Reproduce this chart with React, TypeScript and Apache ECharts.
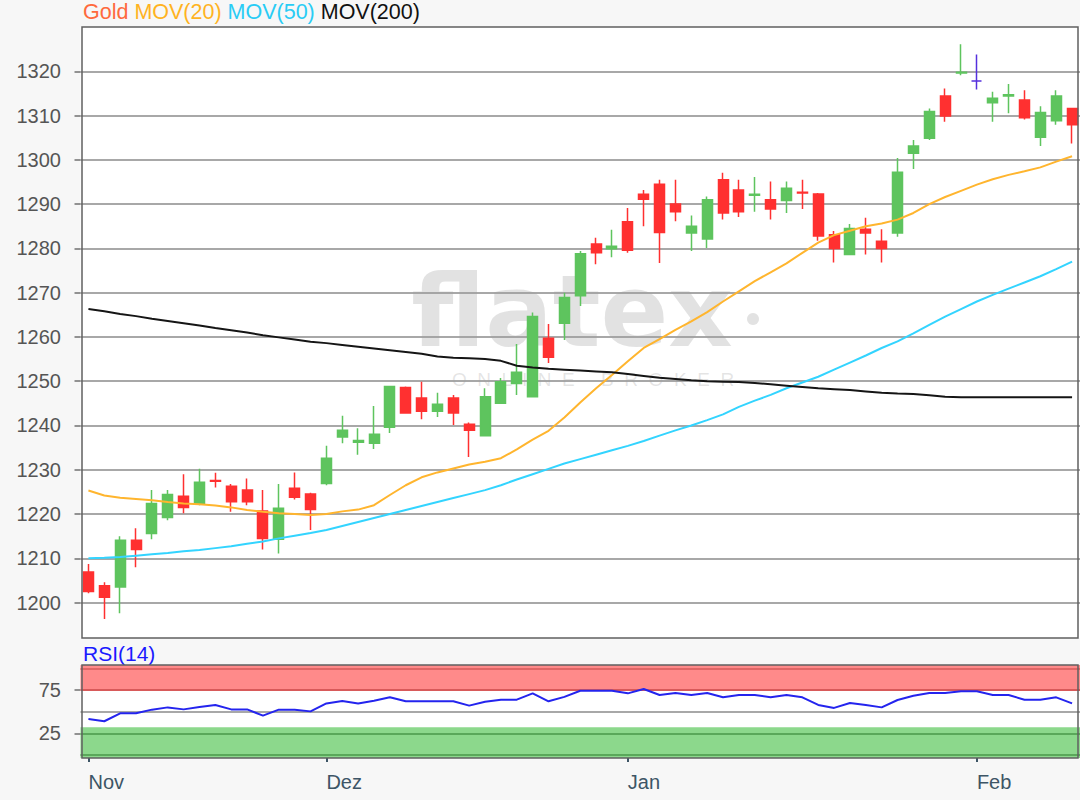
import React, { useEffect, useRef } from "react";
import * as echarts from "echarts";

const dates = [
  "2018-11-12","2018-11-13","2018-11-14","2018-11-15","2018-11-16","2018-11-19","2018-11-20","2018-11-21","2018-11-22","2018-11-23","2018-11-26","2018-11-27","2018-11-28","2018-11-29","2018-11-30",
  "2018-12-03","2018-12-04","2018-12-05","2018-12-06","2018-12-07","2018-12-10","2018-12-11","2018-12-12","2018-12-13","2018-12-14","2018-12-17","2018-12-18","2018-12-19","2018-12-20","2018-12-21","2018-12-24","2018-12-27","2018-12-28","2018-12-31",
  "2019-01-02","2019-01-03","2019-01-04","2019-01-07","2019-01-08","2019-01-09","2019-01-10","2019-01-11","2019-01-14","2019-01-15","2019-01-16","2019-01-17","2019-01-18","2019-01-21","2019-01-22","2019-01-23","2019-01-24","2019-01-25","2019-01-28","2019-01-29","2019-01-30","2019-01-31",
  "2019-02-01","2019-02-04","2019-02-05","2019-02-06","2019-02-07","2019-02-08","2019-02-11",
];

const opens = [
  1206.9, 1203.8, 1203.5, 1214.1, 1215.6, 1219.2, 1224.0, 1222.3, 1227.6, 1226.3,
  1225.4, 1220.7, 1214.3, 1225.8, 1224.5, 1226.9, 1237.4, 1236.2, 1236.0, 1239.6,
  1248.6, 1246.2, 1243.2, 1246.2, 1240.3, 1237.7, 1245.0, 1249.5, 1246.5, 1259.7,
  1263.1, 1269.3, 1281.0, 1279.9, 1286.0, 1292.2, 1294.5, 1290.0, 1283.5, 1282.1,
  1295.5, 1293.2, 1292.0, 1291.0, 1290.8, 1292.7, 1292.3, 1283.1, 1278.6, 1284.3,
  1281.6, 1283.5, 1301.5, 1304.9, 1314.4, 1319.6, 1317.8, 1312.9, 1314.4, 1313.5,
  1305.1, 1308.8, 1311.6,
];
const closes = [
  1202.5, 1201.2, 1214.1, 1212.0, 1222.4, 1224.4, 1221.5, 1227.2, 1227.4, 1222.8,
  1222.8, 1214.5, 1221.3, 1223.8, 1221.0, 1232.6, 1238.9, 1236.6, 1238.0, 1248.8,
  1242.8, 1243.2, 1244.8, 1242.8, 1238.9, 1246.5, 1249.9, 1252.0, 1264.6, 1255.4,
  1268.9, 1278.8, 1279.0, 1280.5, 1279.6, 1291.1, 1283.6, 1288.3, 1285.0, 1291.0,
  1288.0, 1288.3, 1292.2, 1288.9, 1293.6, 1292.5, 1282.8, 1280.0, 1284.5, 1283.5,
  1280.0, 1297.2, 1303.1, 1310.9, 1309.9, 1319.8, 1317.8, 1313.9, 1314.7, 1309.5,
  1310.7, 1314.4, 1307.9,
];
const lows = [
  1202.1, 1196.3, 1197.6, 1208.0, 1214.3, 1218.6, 1220.2, 1222.0, 1226.0, 1220.5,
  1222.0, 1212.0, 1211.1, 1223.3, 1216.4, 1226.5, 1236.0, 1233.4, 1234.7, 1238.3,
  1242.7, 1241.4, 1241.9, 1240.1, 1232.9, 1237.5, 1245.0, 1246.9, 1246.4, 1254.1,
  1259.3, 1267.0, 1276.4, 1278.0, 1279.0, 1285.0, 1276.7, 1286.1, 1279.4, 1280.1,
  1286.5, 1287.1, 1288.3, 1286.5, 1288.0, 1288.9, 1281.7, 1276.8, 1278.6, 1278.6,
  1276.8, 1282.6, 1297.9, 1304.5, 1308.6, 1319.1, 1315.9, 1308.6, 1310.5, 1309.1,
  1303.1, 1307.9, 1303.7,
];
const highs = [
  1208.7, 1204.6, 1215.0, 1216.8, 1225.4, 1225.4, 1229.0, 1230.2, 1229.3, 1226.8,
  1228.0, 1225.4, 1226.8, 1229.4, 1224.8, 1235.4, 1242.2, 1239.4, 1244.4, 1248.9,
  1248.8, 1249.9, 1247.4, 1246.9, 1240.7, 1248.4, 1250.7, 1258.4, 1265.5, 1262.9,
  1270.0, 1279.4, 1282.4, 1284.2, 1289.1, 1293.2, 1295.5, 1295.5, 1287.4, 1291.7,
  1297.1, 1295.5, 1296.1, 1295.1, 1295.1, 1295.5, 1292.5, 1283.9, 1285.5, 1286.9,
  1284.3, 1300.4, 1304.5, 1311.6, 1316.1, 1326.1, 1323.8, 1315.4, 1317.1, 1315.7,
  1312.1, 1315.7, 1311.6,
];

const mov20 = [
  1225.3, 1224.2, 1223.7, 1223.4, 1223.1, 1222.7, 1222.4, 1222.2, 1221.9, 1221.5,
  1220.9, 1220.5, 1220.2, 1220.0, 1219.8, 1220.0, 1220.6, 1221.0, 1222.0, 1224.3,
  1226.5, 1228.3, 1229.4, 1230.3, 1231.2, 1231.8, 1232.6, 1234.6, 1236.8, 1238.8,
  1241.8, 1245.2, 1248.4, 1251.4, 1254.5, 1257.5, 1259.5, 1261.6, 1263.5, 1265.6,
  1268.0, 1270.3, 1272.6, 1274.6, 1276.6, 1279.0, 1281.3, 1283.0, 1284.0, 1285.0,
  1285.6, 1286.5, 1288.0, 1290.0, 1291.6, 1293.0, 1294.4, 1295.6, 1296.6, 1297.4,
  1298.3, 1299.6, 1300.8,
];
const mov50 = [
  1210.0, 1210.1, 1210.3, 1210.6, 1210.9, 1211.2, 1211.6, 1211.9, 1212.3, 1212.7,
  1213.3, 1213.8, 1214.5, 1215.1, 1215.7, 1216.4, 1217.3, 1218.2, 1219.1, 1220.0,
  1220.9, 1221.8, 1222.7, 1223.6, 1224.5, 1225.4, 1226.5, 1227.8, 1229.0, 1230.2,
  1231.4, 1232.4, 1233.4, 1234.4, 1235.4, 1236.5, 1237.7, 1238.9, 1240.0, 1241.2,
  1242.5, 1244.2, 1245.6, 1246.9, 1248.4, 1249.7, 1251.0, 1252.6, 1254.2, 1255.8,
  1257.5, 1259.0, 1260.8, 1262.7, 1264.6, 1266.3, 1268.0, 1269.5, 1270.9, 1272.3,
  1273.7, 1275.3, 1277.0,
];
const mov200 = [
  1266.3, 1265.8, 1265.2, 1264.7, 1264.1, 1263.6, 1263.1, 1262.6, 1262.0, 1261.5,
  1261.0, 1260.4, 1259.9, 1259.4, 1258.9, 1258.6, 1258.2, 1257.8, 1257.4, 1257.0,
  1256.6, 1256.2, 1255.6, 1255.3, 1255.2, 1255.0, 1254.6, 1253.5, 1253.1, 1252.8,
  1252.6, 1252.4, 1252.2, 1252.0, 1251.6, 1251.2, 1250.8, 1250.5, 1250.2, 1250.0,
  1249.9, 1249.8, 1249.6, 1249.3, 1249.0, 1248.7, 1248.4, 1248.2, 1248.0, 1247.7,
  1247.4, 1247.2, 1247.1, 1246.8, 1246.5, 1246.4, 1246.4, 1246.4, 1246.4, 1246.4,
  1246.4, 1246.4, 1246.4,
];
const rsi14 = [
  41.6, 38.9, 48.1, 48.1, 52.3, 54.9, 52.6, 55.4, 57.7, 52.6,
  52.6, 45.4, 52.3, 52.3, 50.3, 59.5, 62.3, 59.5, 62.6, 66.5,
  61.9, 61.9, 61.9, 61.9, 56.9, 61.5, 63.8, 63.8, 71.1, 61.9,
  67.0, 74.1, 74.1, 74.0, 71.1, 76.1, 69.2, 71.5, 69.2, 71.5,
  66.5, 69.2, 69.2, 66.5, 69.2, 66.5, 57.7, 54.3, 60.0, 57.7,
  54.9, 63.4, 68.4, 71.5, 71.5, 73.4, 73.4, 69.2, 69.2, 63.8,
  63.8, 66.5, 59.5,
];

const priceTicks = [1200, 1210, 1220, 1230, 1240, 1250, 1260, 1270, 1280, 1290, 1300, 1310, 1320];
const rsiTicks = [25, 75];
const monthNames: Record<string, string> = { "11": "Nov", "12": "Dez", "01": "Jan", "02": "Feb" };

const UP = "#5ec45e";
const DOWN = "#ff3030";
const DOJI = "#5530dd";
const FONT = "Liberation Sans";
const WM = "rgba(160,160,160,0.3)";

export default function App() {
  const ref = useRef<HTMLDivElement>(null);
  useEffect(() => {
    if (!ref.current) return;
    const chart = echarts.init(ref.current, null, { renderer: "svg" });
    const isMonthStart = (i: number) => i === 0 || dates[i].slice(5, 7) !== dates[i - 1].slice(5, 7);
    const candles = dates.map((_, i) => {
      const v = [opens[i], closes[i], lows[i], highs[i]];
      if (opens[i] === closes[i]) {
        return { value: v, itemStyle: { color: DOJI, color0: DOJI, borderColor: DOJI, borderColor0: DOJI, borderColorDoji: DOJI } };
      }
      return v;
    });

    chart.setOption({
      animation: false,
      backgroundColor: "#f7f7f7",
      textStyle: { fontFamily: FONT },
      grid: [
        { left: 80.5, top: 27, width: 999.5, height: 611, show: true, backgroundColor: "#ffffff", borderWidth: 0 },
        { left: 80.5, top: 665, width: 999.5, height: 93, show: true, backgroundColor: "#ffffff", borderWidth: 0 },
      ],
      xAxis: [
        {
          type: "category", gridIndex: 0, data: dates, boundaryGap: true,
          axisLine: { show: false }, axisTick: { show: false }, axisLabel: { show: false }, splitLine: { show: false },
        },
        {
          type: "category", gridIndex: 1, data: dates, boundaryGap: true,
          axisLine: { show: false },
          axisTick: { show: true, alignWithLabel: true, interval: (i: number) => isMonthStart(i), length: 7, lineStyle: { color: "#3d5566", width: 2 } },
          axisLabel: {
            interval: (i: number) => isMonthStart(i),
            formatter: (v: string) => monthNames[v.slice(5, 7)],
            align: "left", fontSize: 20, color: "#3d5566", margin: 14, fontFamily: FONT,
          },
          splitLine: { show: false },
        },
      ],
      yAxis: [
        {
          type: "value", gridIndex: 0, min: 1192, max: 1330,
          axisLine: { show: false },
          axisTick: { show: true, customValues: priceTicks, length: 6, lineStyle: { color: "#707070", width: 1.5 } },
          axisLabel: { customValues: priceTicks, formatter: (v: number) => String(v), fontSize: 20, color: "#555555", margin: 19.5, fontFamily: FONT },
          splitLine: { show: true, lineStyle: { color: "#a8a8a8", width: 2 } },
        },
        {
          type: "value", gridIndex: 1, min: -3.5, max: 103.8,
          axisLine: { show: false },
          axisTick: { show: true, customValues: rsiTicks, length: 6, lineStyle: { color: "#707070", width: 1.5 } },
          axisLabel: { customValues: rsiTicks, formatter: (v: number) => String(v), fontSize: 20, color: "#555555", margin: 19.5, fontFamily: FONT },
          splitLine: { show: false },
        },
      ],
      graphic: [
        {
          type: "rect", z: 20, silent: true, shape: { x: 82, y: 27, width: 996, height: 611 },
          style: { fill: "none", stroke: "#606060", lineWidth: 1.5 },
        },
        {
          type: "rect", z: 20, silent: true, shape: { x: 82, y: 665, width: 996, height: 93 },
          style: { fill: "none", stroke: "#606060", lineWidth: 1.5 },
        },
        {
          type: "text", left: 83, top: 1, z: 10,
          style: {
            text: "{a|Gold} {b|MOV(20)} {c|MOV(50)} {d|MOV(200)}",
            fontSize: 21.5, fontFamily: FONT, fill: "#000",
            rich: {
              a: { fill: "#ff6a3d", fontSize: 21.5, fontFamily: FONT },
              b: { fill: "#ffb31f", fontSize: 21.5, fontFamily: FONT },
              c: { fill: "#29ccf5", fontSize: 21.5, fontFamily: FONT },
              d: { fill: "#111111", fontSize: 21.5, fontFamily: FONT },
            },
          },
        },
        {
          type: "text", left: 83, top: 643, z: 10,
          style: { text: "RSI(14)", fontSize: 21, fontFamily: FONT, fill: "#1a1aff" },
        },
        {
          type: "text", x: 572, y: 311, z: 1, silent: true,
          style: { text: "flatex", fontSize: 100, fontFamily: "DejaVu Sans", fontWeight: "bold", fill: WM, align: "center", verticalAlign: "middle" },
        },
        {
          type: "circle", z: 1, silent: true, shape: { cx: 753, cy: 319, r: 6 },
          style: { fill: WM },
        },
        {
          type: "text", x: 593, y: 379, z: 1, silent: true,
          style: { text: "O  N  L  I  N  E     B  R  O  K  E  R", fontSize: 19, fontFamily: FONT, fill: "rgba(160,160,160,0.28)", align: "center", verticalAlign: "middle" },
        },
      ],
      series: [
        {
          name: "Gold", type: "candlestick", xAxisIndex: 0, yAxisIndex: 0, data: candles, barWidth: 10.5,
          itemStyle: { color: UP, color0: DOWN, borderColor: UP, borderColor0: DOWN, borderWidth: 1.5 },
        },
        { name: "MOV(20)", type: "line", xAxisIndex: 0, yAxisIndex: 0, data: mov20, symbol: "none", lineStyle: { color: "#ffb52e", width: 2 } },
        { name: "MOV(50)", type: "line", xAxisIndex: 0, yAxisIndex: 0, data: mov50, symbol: "none", lineStyle: { color: "#33d4ff", width: 2 } },
        { name: "MOV(200)", type: "line", xAxisIndex: 0, yAxisIndex: 0, data: mov200, symbol: "none", lineStyle: { color: "#151515", width: 2 } },
        {
          name: "RSI(14)", type: "line", xAxisIndex: 1, yAxisIndex: 1, data: rsi14, symbol: "none", z: 5,
          lineStyle: { color: "#2424ee", width: 2 },
          markArea: {
            silent: true,
            data: [
              [{ yAxis: 75, itemStyle: { color: "#ff8a8a" } }, { yAxis: 103.8 }],
              [{ yAxis: -3.5, itemStyle: { color: "#8cd88c" } }, { yAxis: 32 }],
            ],
          },
          markLine: {
            silent: true, symbol: "none", label: { show: false },
            data: [
              { yAxis: 100, lineStyle: { color: "#e06666", width: 2, type: "solid" } },
              { yAxis: 75, lineStyle: { color: "#d85a5a", width: 2, type: "solid" } },
              { yAxis: 50, lineStyle: { color: "#a8a8a8", width: 2, type: "solid" } },
              { yAxis: 25, lineStyle: { color: "#5aa85a", width: 2, type: "solid" } },
              { yAxis: 0, lineStyle: { color: "#5aa85a", width: 2, type: "solid" } },
            ],
          },
        },
      ],
    });
    return () => chart.dispose();
  }, []);
  return <div ref={ref} style={{ position: "absolute", left: 0, top: 0, width: 1080, height: 800 }} />;
}
